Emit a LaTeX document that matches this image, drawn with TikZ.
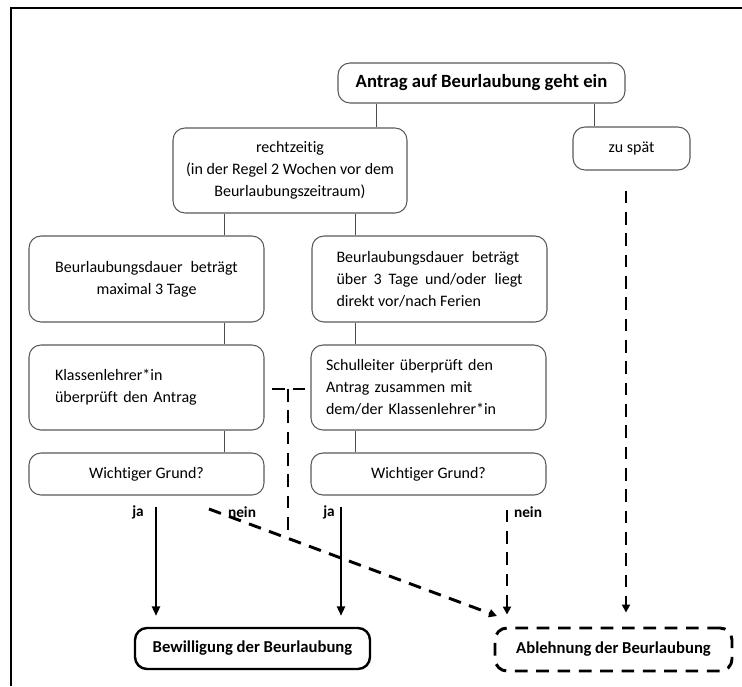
\documentclass[tikz,border=0pt]{standalone}
\usepackage{fontspec}
\setmainfont{Carlito}[Ligatures=CommonOff]
\usetikzlibrary{arrows.meta}
\begin{document}
\begin{tikzpicture}[x=0.75pt,y=-0.75pt,
  box/.style={draw=black!65, line width=0.8pt, rounded corners=9pt, inner sep=0pt,
    font=\fontsize{12}{16.5}\selectfont, align=center},
  conn/.style={draw=black!70, line width=0.6pt},
  arr/.style={line width=1.5pt, -{Triangle[length=7pt,width=6pt]}},
  darr/.style={line width=2.2pt, dash pattern=on 9.5pt off 6.5pt, -{Triangle[length=6pt,width=6pt]}},
  dline/.style={line width=2.2pt, dash pattern=on 9.5pt off 6.5pt},
  lbl/.style={font=\fontsize{11.5}{13}\selectfont\bfseries, inner sep=0pt}]
\useasboundingbox (0,0) rectangle (742,686);
% frame
\draw[line width=1.5pt] (11,686) -- (11,8) -- (742,8);
% nodes
\node[box, minimum width=215.25pt, minimum height=30pt, font=\fontsize{14}{16}\selectfont\bfseries] (top) at (481.5,83) {Antrag auf Beurlaubung geht ein};
\node[box, minimum width=175.5pt, minimum height=63.75pt] (recht) at (290,170.5) {rechtzeitig\\(in der Regel 2 Wochen vor dem\\Beurlaubungszeitraum)};
\node[box, minimum width=87.75pt, minimum height=32.25pt] (spaet) at (631.5,148.5) {zu spät};
\node[box, minimum width=176.25pt, minimum height=64.5pt] (dauerL) at (146.5,279) {Beurlaubungsdauer\enspace beträgt\\maximal 3 Tage};
\node[box, minimum width=176.25pt, minimum height=64.5pt, align=left] (dauerR) at (429.5,279) {\makebox[139.5pt][s]{Beurlaubungsdauer\enspace beträgt}\\\makebox[139.5pt][s]{über 3 Tage und/oder\enspace liegt}\\direkt vor/nach Ferien};
\node[box, minimum height=63.75pt, inner xsep=19.5pt, text width=137.25pt, align=left] (klL) at (146.5,387.5) {Klassenlehrer*in\\überprüft den Antrag};
\node[box, minimum height=63.75pt, inner xsep=11.25pt, text width=153.75pt, align=left] (schulR) at (428.5,387.5) {Schulleiter überprüft den\\Antrag zusammen mit\\dem/der Klassenlehrer*in};
\node[box, minimum width=176.25pt, minimum height=31.5pt] (gL) at (146.5,474) {Wichtiger Grund?};
\node[box, minimum width=176.25pt, minimum height=31.5pt] (gR) at (428.5,474) {Wichtiger Grund?};
\node[box, draw=black, line width=1.8pt, minimum width=176.25pt, minimum height=30.75pt, font=\fontsize{12.5}{14}\selectfont\bfseries] (bew) at (252.5,648.5) {Bewilligung der Beurlaubung};
\node[box, draw=black, line width=2.2pt, dash pattern=on 9.5pt off 6.5pt, minimum width=177.75pt, minimum height=32.25pt, font=\fontsize{12.5}{14}\selectfont\bfseries] (abl) at (613.5,649.5) {Ablehnung der Beurlaubung};
% labels
\node[lbl] (ja1) at (138,512) {ja};
\node[lbl] (nein1) at (242,512) {nein};
\node[lbl] (ja2) at (329,512) {ja};
\node[lbl] (nein2) at (528,512) {nein};
% helper coordinates
\coordinate (x376) at (376,0);
\coordinate (x594) at (594,0);
\coordinate (x224) at (224,0);
\coordinate (x355) at (355,0);
\coordinate (xj1) at (156,0);
\coordinate (xj2) at (341,0);
\coordinate (xn2) at (507,0);
\coordinate (xsp) at (626,0);
\coordinate (n1s) at (209,509);
\coordinate (n1e) at (497,616);
\coordinate (th1) at (272,389);
\coordinate (th2) at (305,389);
\coordinate (tv1) at (288,389);
\coordinate (tv2) at (288,538);
% thin connectors
\draw[conn] (top.south -| x376) -- (recht.north -| x376);
\draw[conn] (top.south -| x594) -- (spaet.north -| x594);
\draw[conn] (recht.south -| x224) -- (dauerL.north -| x224);
\draw[conn] (recht.south -| x355) -- (dauerR.north -| x355);
\draw[conn] (dauerL.south -| x224) -- (klL.north -| x224);
\draw[conn] (dauerR.south -| x355) -- (schulR.north -| x355);
\draw[conn] (klL.south -| x224) -- (gL.north -| x224);
\draw[conn] (schulR.south -| x355) -- (gR.north -| x355);
% ja arrows
\draw[arr, shorten <=8.25pt, shorten >=8.25pt] (gL.south -| xj1) -- (bew.north -| xj1);
\draw[arr, shorten <=8.25pt, shorten >=8.25pt] (gR.south -| xj2) -- (bew.north -| xj2);
% nein arrows
\draw[darr] (n1s) -- (n1e);
\draw[darr, shorten <=10.5pt, shorten >=9pt] (gR.south -| xn2) -- (abl.north -| xn2);
\draw[darr, shorten <=15pt, shorten >=10.5pt] (spaet.south -| xsp) -- (abl.north -| xsp);
% T junction
\draw[dline] (th1) -- (th2);
\draw[dline] (tv1) -- (tv2);
\end{tikzpicture}
\end{document}
